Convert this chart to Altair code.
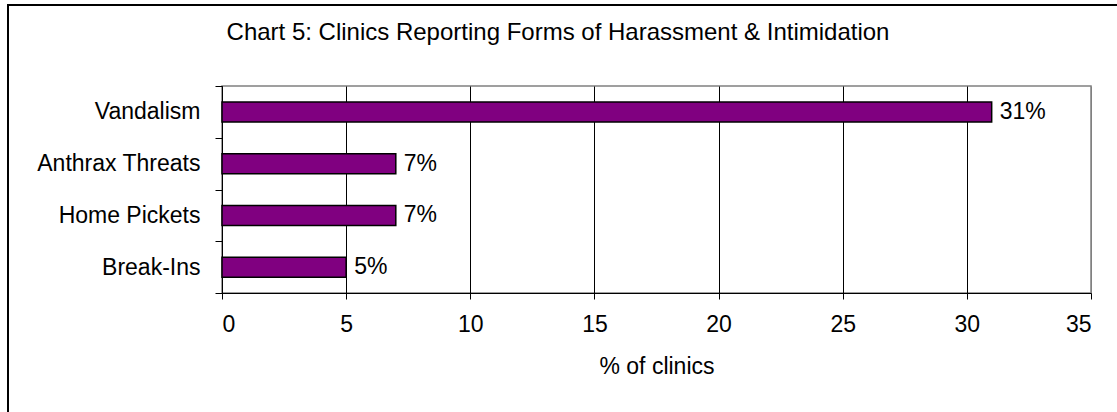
import altair as alt
import pandas as pd

categories = ["Vandalism", "Anthrax Threats", "Home Pickets", "Break-Ins"]
values = [31, 7, 7, 5]
x_ticks = [0, 5, 10, 15, 20, 25, 30, 35]
title_text = "Chart 5: Clinics Reporting Forms of Harassment & Intimidation"
x_title = "% of clinics"

FONT = "Liberation Sans"
FS = 23

df = pd.DataFrame({"category": categories, "value": values})

base = alt.Chart(df).transform_calculate(label="datum.value + '%'")

y_enc = alt.Y(
    "category:N",
    sort=categories,
    scale=alt.Scale(paddingInner=0, paddingOuter=0),
    axis=alt.Axis(
        title=None,
        tickBand="extent",
        tickSize=7,
        tickColor="black",
        domainColor="black",
        labelFont=FONT,
        labelFontSize=FS,
        labelColor="black",
        labelPadding=15,
        grid=False,
    ),
)

bars = base.mark_bar(color="#800080", stroke="black", strokeWidth=1.5, size=20).encode(
    x=alt.X(
        "value:Q",
        scale=alt.Scale(domain=[0, 35], nice=False),
        axis=alt.Axis(
            values=x_ticks,
            title=x_title,
            titleFont=FONT,
            titleFontSize=FS,
            titleFontWeight="normal",
            titleColor="black",
            titlePadding=19,
            grid=True,
            gridColor={"condition": {"test": "datum.value === 35", "value": "#808080"}, "value": "black"},
            gridOpacity=1,
            tickSize=6,
            tickColor="black",
            domainColor="black",
            labelFont=FONT,
            labelFontSize=FS,
            labelColor="black",
            labelPadding=14,
        ),
    ),
    y=y_enc,
)

labels = base.mark_text(align="left", baseline="middle", dx=8, font=FONT, fontSize=FS, color="black").encode(
    x="value:Q",
    y=alt.Y("category:N", sort=categories),
    text="label:N",
)

one = alt.Data(values=[{"t": title_text}])

title_layer = alt.Chart(one).mark_text(
    align="center", baseline="middle", font=FONT, fontSize=24, color="black", clip=False
).encode(
    x=alt.value(336),
    y=alt.value(-53),
    text="t:N",
)

border = alt.Chart(one).mark_rect(
    filled=False, stroke="black", strokeWidth=2, clip=False
).encode(
    x=alt.value(-214),
    x2=alt.value(940),
    y=alt.value(-81),
    y2=alt.value(360),
)

chart = alt.layer(bars, labels, title_layer, border).properties(
    width=869,
    height=207,
    autosize=alt.AutoSizeParams(type="none"),
    padding={"left": 222, "top": 86, "right": 26, "bottom": 119},
    background="white",
).configure_view(stroke="#808080", strokeWidth=1.5)

chart.save("out.html", embed_options={"renderer": "svg", "actions": False})
